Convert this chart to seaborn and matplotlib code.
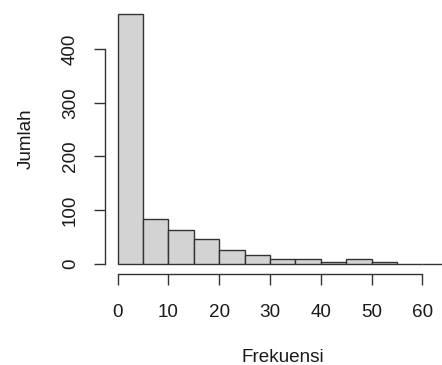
import matplotlib
matplotlib.use("Agg")
import matplotlib.pyplot as plt
import seaborn as sns
import numpy as np
import pandas as pd

# Data (bin edges of width 5, counts)
bin_edges = [0, 5, 10, 15, 20, 25, 30, 35, 40, 45, 50, 55, 60, 65]
bin_starts = [0, 5, 10, 15, 20, 25, 30, 35, 40, 45, 50, 55, 60]
counts = [466, 83, 63, 45, 26, 16, 8, 8, 3, 8, 3, 0, 0]
x_ticks = [0, 10, 20, 30, 40, 50, 60]
y_ticks = [0, 100, 200, 300, 400]
x_label = "Frekuensi"
y_label = "Jumlah"

sns.set_style("white")
plt.rcParams['font.family'] = ['Liberation Sans', 'DejaVu Sans']

W, H = 442, 365
fig = plt.figure(figsize=(W / 100, H / 100), dpi=100)
left, right, top, bottom = 104.5, 461.0, 4.0, 273.5
ax = fig.add_axes([left / W, 1 - bottom / H, (right - left) / W, (bottom - top) / H])

df = pd.DataFrame({"x": np.array(bin_starts) + 2.5, "w": counts})
sns.histplot(data=df, x="x", weights="w", bins=bin_edges, ax=ax,
             color="#D3D3D3", edgecolor="#333333", linewidth=1.0, alpha=1.0)

ax.set_xlim(-2.6, 67.6)
ax.set_ylim(-18.6, 484.6)
ax.set_xticks(x_ticks)
ax.set_yticks(y_ticks)

for s in ["top", "right"]:
    ax.spines[s].set_visible(False)
ax.spines["left"].set_bounds(0, 400)
ax.spines["bottom"].set_bounds(0, 60)
for s in ["left", "bottom"]:
    ax.spines[s].set_color("#333333")
    ax.spines[s].set_linewidth(1.0)

txt = "#1a1a1a"
ax.tick_params(axis="x", direction="out", length=8, width=1.0, color="#333333",
               pad=14, labelsize=13.6, labelcolor=txt, bottom=True)
ax.tick_params(axis="y", direction="out", length=8, width=1.0, color="#333333",
               pad=10.5, labelsize=13.6, labelcolor=txt, labelrotation=90, left=True)
for lbl in ax.get_yticklabels():
    lbl.set_va("center")

ax.set_xlabel(x_label, fontsize=13.6, color=txt)
ax.set_ylabel(y_label, fontsize=13.6, color=txt)
ax.xaxis.set_label_coords(282.8 / W, 1 - 357 / H, transform=fig.transFigure)
ax.xaxis.label.set_va("center")
ax.yaxis.set_label_coords(26.5 / W, 1 - 138.8 / H, transform=fig.transFigure)
ax.yaxis.label.set_va("center")

fig.savefig("out.png", dpi=100)
